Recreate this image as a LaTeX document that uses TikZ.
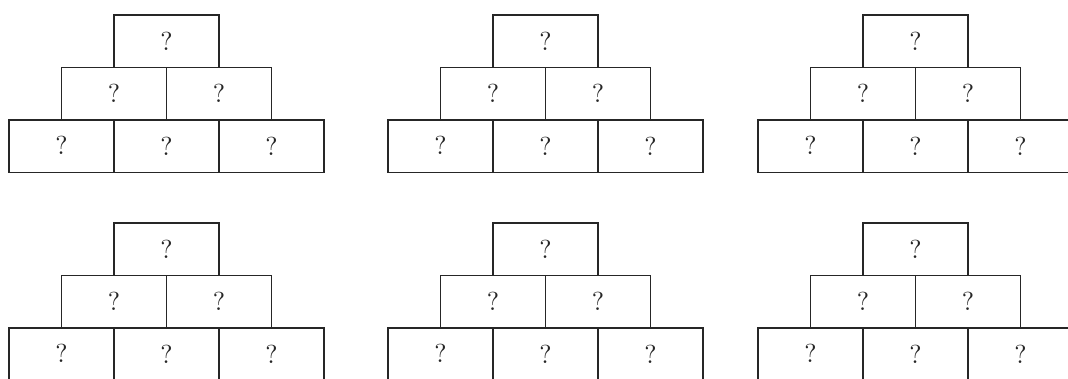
\documentclass[tikz,border=0pt]{standalone}
\usetikzlibrary{positioning}
\definecolor{stoneink}{HTML}{262626}
\newcommand{\qmark}[1]{\raisebox{#1}{\scalebox{1.85}{?}}}

\begin{document}
\begin{tikzpicture}[x=.025cm,y=-.025cm,
    stone/.style={draw=stoneink,line width=1.25pt,minimum width=2.625cm,
      minimum height=1.3125cm,inner sep=0pt,outer sep=0pt,text=stoneink,
      font=\fontsize{10}{12}\selectfont}]
    \useasboundingbox (0,0) rectangle (1068,378);
    \foreach \px/\py/\pyr in {114/15/a,493/15/b,863/15/c,114/223/d,493/223/e,863/223/f}{
      \node[stone,anchor=north west] (\pyr0) at (\px,\py) {\qmark{-2pt}};
      \node[stone,below left=0pt and 0pt of \pyr0.south] (\pyr1) {\qmark{-2pt}};
      \node[stone,below right=0pt and 0pt of \pyr0.south] (\pyr2) {\qmark{-2pt}};
      \node[stone,below left=0pt and 0pt of \pyr1.south] (\pyr3) {\qmark{1pt}};
      \node[stone,below=0pt of \pyr1.south east] (\pyr4) {\qmark{-2pt}};
      \node[stone,below right=0pt and 0pt of \pyr2.south] (\pyr5) {\qmark{-2pt}};
    }
  \end{tikzpicture}
\end{document}
